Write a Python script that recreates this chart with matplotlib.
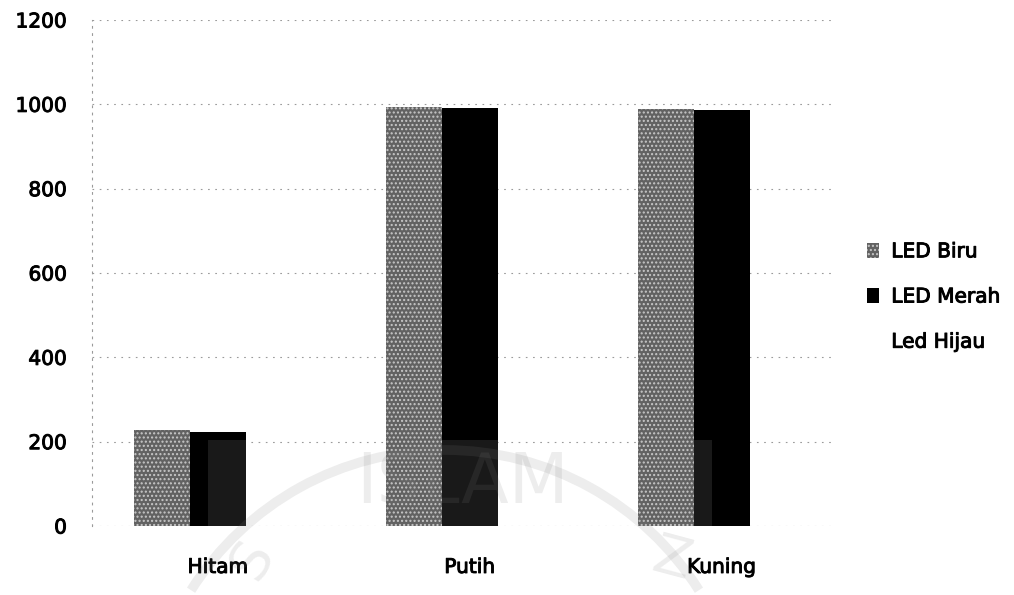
import numpy as np
import matplotlib.pyplot as plt
import matplotlib.patheffects as pe
from matplotlib.patches import Arc, Rectangle

kategori = ['Hitam', 'Putih', 'Kuning']
led_biru = [228, 994, 989]
led_merah = [223, 991, 987]
led_hijau = [0, 0, 0]
yticks = [0, 200, 400, 600, 800, 1000, 1200]

plt.rcParams['font.family'] = ['DejaVu Sans']
plt.rcParams['hatch.linewidth'] = 1.0

W, H = 1014, 595
fig = plt.figure(figsize=(W / 100, H / 100), dpi=100)
ax = fig.add_axes([92 / W, 1 - 526 / H, 743 / W, 506 / H])

x = np.arange(len(kategori))
w = 0.222
ax.bar(x - w, led_biru, w, color='#626262', edgecolor='#c8c8c8', linewidth=0,
       hatch='....', label='LED Biru', zorder=2)
merah = ax.bar(x, led_merah, w, color='black', linewidth=0, label='LED Merah', zorder=2)
ax.bar(x + w, led_hijau, w, color='white', linewidth=0, label='Led Hijau', zorder=2)

ax.set_xlim(-0.5, 2.45)
ax.set_ylim(0, 1200)
ax.set_yticks(yticks)
ax.set_xticks(x)
ax.set_xticklabels(kategori)
ax.tick_params(axis='y', length=0, labelsize=14.5, pad=18)
ax.tick_params(axis='x', length=0, labelsize=14.5, pad=23)

# dotted grey grid like a scanned excel chart
ax.yaxis.grid(True, linestyle=(0, (1.5, 5)), color='#9a9a9a', linewidth=0.8)
ax.set_axisbelow(True)
for s in ['top', 'right', 'bottom']:
    ax.spines[s].set_visible(False)
ax.spines['left'].set_linestyle((0, (1.5, 5)))
ax.spines['left'].set_color('#9a9a9a')
ax.spines['left'].set_linewidth(0.8)

leg = ax.legend(loc='center left', bbox_to_anchor=(849 / W, 1 - 297 / H),
                bbox_transform=fig.transFigure, frameon=False, fontsize=14.5,
                labelspacing=1.3, handlelength=0.6, handleheight=0.75,
                handletextpad=0.6)

# slightly heavier strokes on the text
heavy = [pe.withStroke(linewidth=0.7, foreground='black')]
for t in ax.get_xticklabels() + ax.get_yticklabels() + leg.get_texts():
    t.set_path_effects(heavy)


# faint watermark over the lower part of the chart
def P(px, py):
    return (px / W, 1 - py / H)


for bar in merah:
    r = Rectangle(P(208, 595), 504 / W, 155 / H, transform=fig.transFigure,
                  facecolor='0.77', alpha=0.13, linewidth=0, zorder=5)
    fig.add_artist(r)
    r.set_clip_path(bar)
fig.add_artist(Arc(P(445, 750), 600 / W, 600 / H, theta1=47, theta2=133,
                   transform=fig.transFigure, color='0.5', alpha=0.14, lw=7, zorder=5))
fig.text(*P(462, 483), 'ISLAM', fontsize=50, color='0.5', alpha=0.14,
         ha='center', va='center', zorder=5)
fig.text(*P(252, 560), 'S', fontsize=40, color='0.5', alpha=0.14, rotation=60,
         ha='center', va='center', zorder=5)
fig.text(*P(672, 560), 'Z', fontsize=40, color='0.5', alpha=0.14, rotation=-15,
         ha='center', va='center', zorder=5)

fig.savefig('out.png', dpi=100)
